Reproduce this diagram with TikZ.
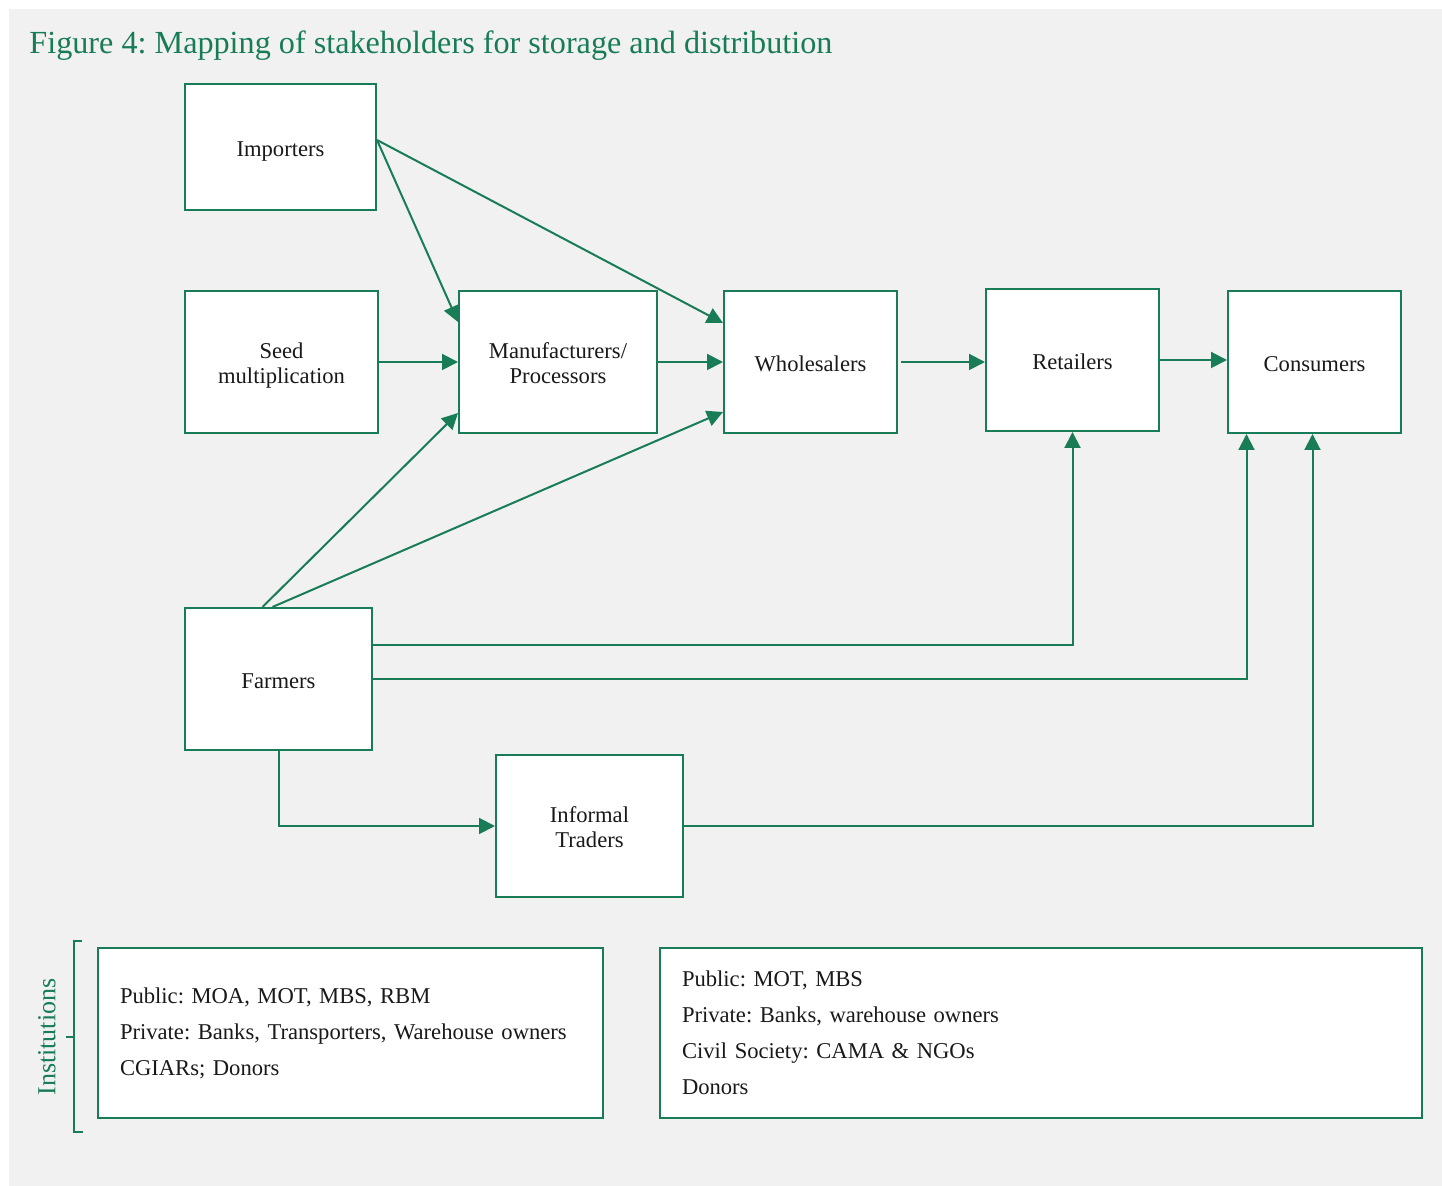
\documentclass[tikz,border=0pt]{standalone}
\usepackage{fontspec}
\setmainfont{Liberation Serif}
\usetikzlibrary{arrows.meta,calc}
\definecolor{grn}{RGB}{24,124,86}
\definecolor{panel}{RGB}{241,241,241}
\definecolor{ink}{RGB}{25,25,25}
\frenchspacing
% box label: centred lines, drawn a little below the geometric centre
\newcommand\boxtext[1]{\raisebox{-2pt}[\height][\depth]{\begin{tabular}{@{}c@{}}#1\end{tabular}}}
\begin{document}
\begin{tikzpicture}[x=0.5pt,y=-0.5pt,
  stakebox/.style={draw=grn, line width=1pt, fill=white, inner sep=0pt, align=center,
    text=ink, font=\fontsize{11.3}{12.6}\selectfont},
  instbox/.style={draw=grn, line width=1pt, fill=white, inner xsep=11pt, inner ysep=0pt,
    align=left, text=ink, minimum height=85pt, font=\fontsize{11.3}{18}\selectfont},
  flow/.style={draw=grn, line width=1pt, -{Triangle[length=8pt,width=8pt]}},
  brace/.style={draw=grn, line width=1pt}]
  % page and panel
  \useasboundingbox (0,0) rectangle (1442,1186);
  \fill[white] (0,0) rectangle (1442,1186);
  \fill[panel] (9,9) rectangle (1442,1186);

  % title
  \node[anchor=base west, inner sep=0pt, text=grn, font=\fontsize{16.1}{18}\selectfont] (title) at (29,54)
    {Figure 4: Mapping of stakeholders for storage and distribution};

  % stakeholders
  \node[stakebox, minimum width=95.5pt, minimum height=63pt] (imp) at (280.5,147) {\boxtext{Importers}};
  \node[stakebox, minimum width=96.5pt, minimum height=71pt] (seed) at (281.5,362) {\boxtext{Seed\\multiplication}};
  \node[stakebox, minimum width=99pt, minimum height=71pt] (man) at (558,362) {\boxtext{Manufacturers/\\Processors}};
  \node[stakebox, minimum width=86.5pt, minimum height=71pt] (who) at (810.5,362) {\boxtext{Wholesalers}};
  \node[stakebox, minimum width=86.5pt, minimum height=71pt] (ret) at (1072.5,360) {\boxtext{Retailers}};
  \node[stakebox, minimum width=86.5pt, minimum height=71pt] (con) at (1314.5,362) {\boxtext{Consumers}};
  \node[stakebox, minimum width=93.5pt, minimum height=71pt] (far) at (278.5,679) {\boxtext{Farmers}};
  \node[stakebox, minimum width=93.5pt, minimum height=71pt] (inf) at (589.5,826) {\boxtext{Informal\\Traders}};

  % flows
  \draw[flow] ([yshift=3.5pt]imp.east) -- ([yshift=-16pt]man.north west);
  \draw[flow] ([yshift=3.5pt]imp.east) -- ([yshift=-16.5pt]who.north west);
  \draw[flow] (seed.east) -- (man.west);
  \draw[flow] (man.east) -- (who.west);
  \draw[flow] ([xshift=-8pt]far.north) -- ([yshift=10.5pt]man.south west);
  \draw[flow] ([xshift=-3pt]far.north) -- ([yshift=11pt]who.south west);
  \draw[flow] ([xshift=1.5pt]who.east) -- (who.east -| ret.west);
  \draw[flow] (ret.east) -- (ret.east -| con.west);
  \draw[flow] ([yshift=17pt]far.east) -| (ret.south);
  \draw[flow] (far.east) -| ([xshift=-34pt]con.south);
  \draw[flow] (far.south) |- (inf.west);
  \draw[flow] (inf.east) -| ([xshift=-1pt]con.south);

  % institutions
  \node[instbox, minimum width=252.5pt, text width=230.5pt] (inst1) at (350.5,1033)
    {Public: MOA, MOT, MBS, RBM\\Private: Banks, Transporters, Warehouse owners\\CGIARs; Donors};
  \node[instbox, minimum width=381pt, text width=359pt] (inst2) at (1041,1033)
    {Public: MOT, MBS\\Private: Banks, warehouse owners\\Civil Society: CAMA \& NGOs\\Donors};

  \draw[brace] (82,941) -- (74,941) -- (74,1132) -- (83,1132);
  \draw[brace] (74,1037) -- (66,1037);
  \node[rotate=90, text=grn, inner sep=0pt, font=\fontsize{13}{15}\selectfont] (instlabel) at (47,1037) {Institutions};
\end{tikzpicture}
\end{document}
